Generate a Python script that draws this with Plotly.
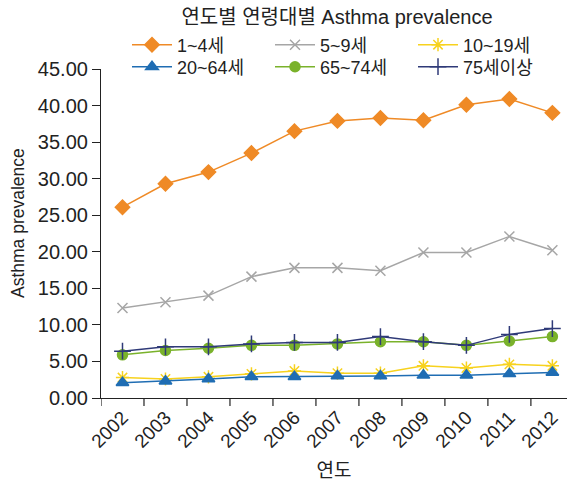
import plotly.graph_objects as go

years = ["2002", "2003", "2004", "2005", "2006", "2007", "2008", "2009", "2010", "2011", "2012"]

age_1_4 = [26.1, 29.3, 30.9, 33.5, 36.5, 37.9, 38.3, 38.0, 40.1, 40.9, 39.0]
age_5_9 = [12.3, 13.1, 14.0, 16.6, 17.8, 17.8, 17.4, 19.9, 19.9, 22.1, 20.2]
age_10_19 = [2.8, 2.6, 2.9, 3.3, 3.7, 3.4, 3.4, 4.4, 4.1, 4.6, 4.4]
age_20_64 = [2.1, 2.3, 2.6, 2.9, 2.9, 3.0, 3.0, 3.1, 3.1, 3.3, 3.5]
age_65_74 = [5.9, 6.5, 6.8, 7.2, 7.2, 7.4, 7.7, 7.7, 7.2, 7.8, 8.4]
age_75_plus = [6.4, 7.0, 7.0, 7.4, 7.6, 7.6, 8.4, 7.7, 7.2, 8.7, 9.5]

# name, values, colour, marker symbol, marker size, legend row
series = [
    ("1~4세", age_1_4, "#EF8A26", "diamond", 11, "legend"),
    ("5~9세", age_5_9, "#A6A6A6", "x-thin", 10, "legend"),
    ("10~19세", age_10_19, "#F7D21E", "asterisk", 11, "legend"),
    ("20~64세", age_20_64, "#1F6DB3", "triangle-up", 11, "legend2"),
    ("65~74세", age_65_74, "#7AB22B", "circle", 10, "legend2"),
    ("75세이상", age_75_plus, "#2F3A78", "cross-thin", 12, "legend2"),
]

x_idx = list(range(len(years)))

fig = go.Figure()
for name, vals, color, symbol, size, leg in series:
    fig.add_trace(go.Scatter(
        x=x_idx, y=vals, name=name, mode="lines+markers", legend=leg,
        line=dict(color=color, width=1.5),
        marker=dict(symbol=symbol, size=size, color=color,
                    line=dict(color=color, width=1.5)),
    ))

font_family = "Liberation Sans, Arial, Noto Sans CJK KR, sans-serif"

legend_common = dict(orientation="h", xref="container", yref="container",
                     xanchor="left", yanchor="middle", itemwidth=40,
                     entrywidth=88, entrywidthmode="pixels",
                     font=dict(size=18), bgcolor="rgba(0,0,0,0)")

fig.update_layout(
    width=567, height=486,
    margin=dict(l=101, r=0, t=69, b=88, autoexpand=False),
    paper_bgcolor="white", plot_bgcolor="white",
    font=dict(family=font_family, color="#222222", size=18),
    title=dict(text="연도별 연령대별 Asthma prevalence", x=337 / 567, xanchor="center",
               y=1 - 17 / 486, yanchor="middle", font=dict(size=20, color="#222222")),
    showlegend=True,
    legend=dict(x=127 / 567, y=1 - 45 / 486, **legend_common),
    legend2=dict(x=127 / 567, y=1 - 67 / 486, **legend_common),
    xaxis=dict(
        range=[-0.5, 10.34], tickmode="array", tickvals=x_idx, ticktext=years,
        tickangle=-45, ticks="", showline=True, linecolor="#222222", linewidth=1.2,
        showgrid=False, zeroline=False, tickfont=dict(size=19),
        title=dict(text="연도", font=dict(size=19), standoff=12),
    ),
    yaxis=dict(
        range=[0, 45], tickmode="array", tickvals=[0, 5, 10, 15, 20, 25, 30, 35, 40, 45],
        ticktext=[f"{v:.2f}" for v in [0, 5, 10, 15, 20, 25, 30, 35, 40, 45]],
        ticks="outside", ticklen=8, tickcolor="#222222", tickwidth=1.2,
        showline=True, linecolor="#222222", linewidth=1.2,
        showgrid=False, zeroline=False, tickfont=dict(size=20),
    ),
    annotations=[dict(
        text="Asthma prevalence", textangle=-90, xref="paper", yref="paper",
        x=-83 / 466, y=(398 - 223) / 329, xanchor="center", yanchor="middle",
        showarrow=False, font=dict(size=17.5),
    )],
)

# tick marks on the category boundaries of the x axis
for b in [i - 0.5 for i in range(len(years) + 1)]:
    if b <= 10.34:
        fig.add_shape(type="line", xref="x", yref="paper", x0=b, x1=b, y0=0, y1=-8 / 329,
                      line=dict(color="#222222", width=1.2))

fig.write_html("out.html")
